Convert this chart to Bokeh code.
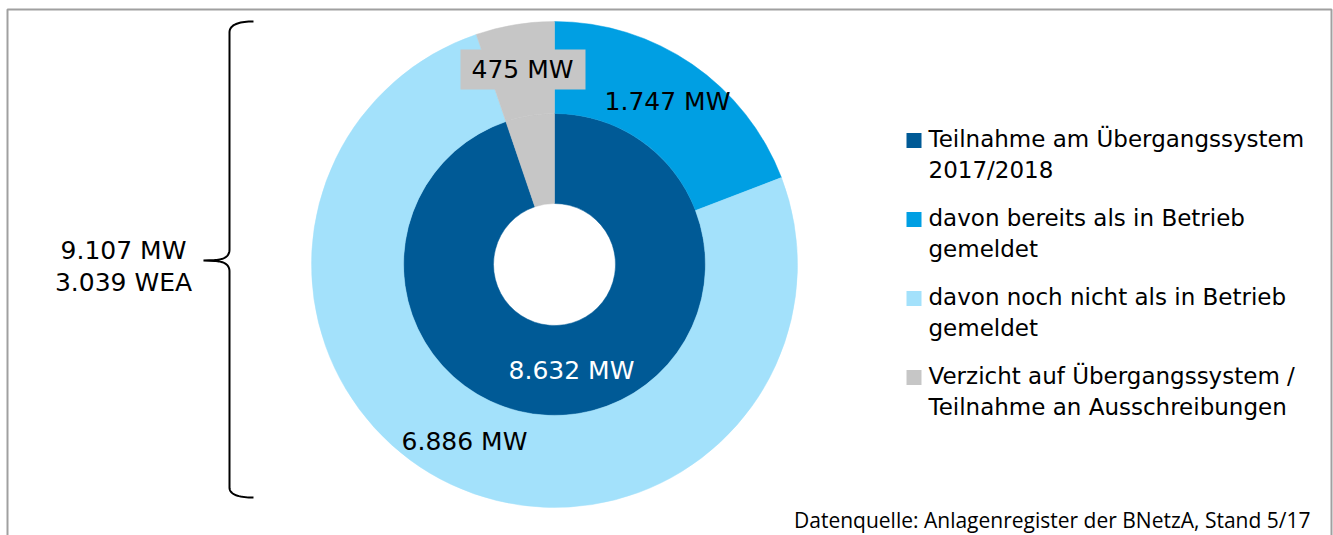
import numpy as np
from bokeh.plotting import figure
from bokeh.models import Range1d
from bokeh.core.properties import value
from bokeh.embed import file_html
from bokeh.resources import INLINE

# ---------------- data ----------------
categories = [
    "Teilnahme am Übergangssystem\n2017/2018",
    "davon bereits als in Betrieb\ngemeldet",
    "davon noch nicht als in Betrieb\ngemeldet",
    "Verzicht auf Übergangssystem /\nTeilnahme an Ausschreibungen",
]
colors = ["#005A96", "#009FE3", "#A3E1FB", "#C6C6C6"]

inner_values = [8632, 475]          # Teilnahme, Verzicht
inner_colors = [colors[0], colors[3]]
inner_labels = ["8.632 MW", ""]

outer_values = [1747, 6886, 475]    # bereits, noch nicht, Verzicht
outer_colors = [colors[1], colors[2], colors[3]]
outer_labels = ["1.747 MW", "6.886 MW", "475 MW"]

total_label = "9.107 MW\n3.039 WEA"
source_note = "Datenquelle: Anlagenregister der BNetzA, Stand 5/17"

# ---------------- layout helpers (page px -> data) ----------------
W, H = 1333, 535
def X(px):
    return px
def Y(py):
    return H - py

FONT = "DejaVu Sans"

p = figure(width=W, height=H, x_range=Range1d(0, W), y_range=Range1d(0, H),
           output_backend="svg", toolbar_location=None, min_border=0)
p.axis.visible = False
p.grid.visible = False
p.outline_line_color = None
p.background_fill_color = "white"

cx, cy = X(554), Y(264)
r_hole, r_mid, r_out = 61, 151, 243

def ring(vals, cols, r0, r1):
    v = np.array(vals, dtype=float)
    frac = v / v.sum()
    cum = np.concatenate([[0], np.cumsum(frac)])
    starts = np.pi / 2 - cum[1:] * 2 * np.pi
    ends = np.pi / 2 - cum[:-1] * 2 * np.pi
    p.annular_wedge(x=[cx] * len(v), y=[cy] * len(v), inner_radius=r0, outer_radius=r1,
                    inner_radius_units="screen", outer_radius_units="screen",
                    start_angle=list(starts), end_angle=list(ends),
                    fill_color=cols, line_color=cols, line_width=0.5)

ring(inner_values, inner_colors, r_hole, r_mid)
ring(outer_values, outer_colors, r_mid, r_out)

# labels (positions in order: bereits, noch nicht, Verzicht)
p.rect(x=[X(522.5)], y=[Y(69)], width=125, height=40, width_units="screen",
       height_units="screen", fill_color=colors[3], line_color=None)
p.text(x=[X(667), X(464), X(522)], y=[Y(101), Y(441), Y(69)], text=outer_labels,
       text_font=value(FONT), text_font_size="25px", text_color="black",
       text_align="center", text_baseline="middle")
p.text(x=[X(571)], y=[Y(370)], text=[inner_labels[0]],
       text_font=value(FONT), text_font_size="25px", text_color="white",
       text_align="center", text_baseline="middle")

# total label
p.text(x=[X(123)], y=[Y(266)], text=[total_label], text_font=value(FONT),
       text_font_size="25px", text_color="black", text_align="center",
       text_baseline="middle", text_line_height=1.12)

# brace
def quad(p0, c, p2, n=20):
    t = np.linspace(0, 1, n)[:, None]
    a, b, d = np.array(p0), np.array(c), np.array(p2)
    return (1 - t) ** 2 * a + 2 * (1 - t) * t * b + t ** 2 * d

segs = [
    quad((253, 21), (229, 21), (229, 32)),
    np.array([[229, 32], [229, 249]]),
    quad((229, 249), (229, 259), (214, 259.5)),
    np.array([[214, 259.5], [203, 260]]),
    np.array([[203, 260], [214, 260.5]]),
    quad((214, 260.5), (229, 261), (229, 271)),
    np.array([[229, 271], [229, 487]]),
    quad((229, 487), (229, 497), (253, 497)),
]
pts = np.vstack(segs)
p.line(x=[X(v) for v in pts[:, 0]], y=[Y(v) for v in pts[:, 1]],
       line_color="black", line_width=2)

# legend
leg_y = [140, 219, 298, 377]
p.rect(x=[X(913.5)] * 4, y=[Y(v) for v in leg_y], width=15, height=15,
       width_units="screen", height_units="screen", fill_color=colors, line_color=None)
p.text(x=[X(928)] * 4, y=[Y(v - 15) for v in leg_y], text=categories,
       text_font=value(FONT), text_font_size="23px", text_color="black",
       text_align="left", text_baseline="top", text_line_height=1.2)

# source note
p.text(x=[X(1310)], y=[Y(519)], text=[source_note], text_font=value("Open Sans"),
       text_font_size="21px", text_color="black", text_align="right",
       text_baseline="middle")

# frame (cut at bottom)
p.line(x=[X(7), X(7), X(1331), X(1331)], y=[0, Y(9), Y(9), 0],
       line_color="#A0A0A0", line_width=2)

open("out.html", "w").write(file_html(p, INLINE))
